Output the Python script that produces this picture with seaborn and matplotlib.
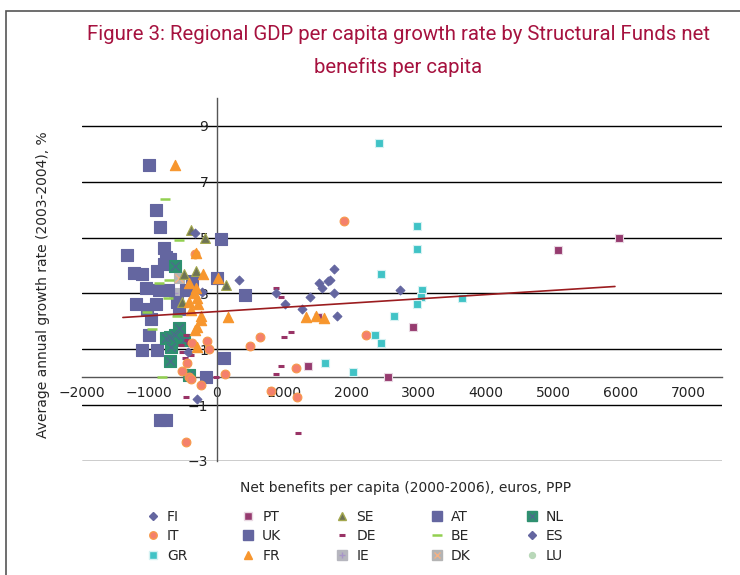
import numpy as np
import pandas as pd
import seaborn as sns
import matplotlib.pyplot as plt
from matplotlib.lines import Line2D
from matplotlib.patches import Rectangle

# values: x = net benefits per capita, y = growth rate (%)
fi_x = [-330, 330, -300, -420, -220]
fi_y = [5.18, 3.50, -0.79, 0.89, 3.05]

es_x = [878, 1012, 1265, 1384, 1518, 1562, 1652, 1741, 1682, 1741, 1786, 2723]
es_y = [3.00, 2.61, 2.46, 2.89, 3.39, 3.21, 3.46, 3.89, 3.50, 3.00, 2.18, 3.11]

pt_x = [5967, 5060, 2917, 2545, 1354, 1500]
pt_y = [5.00, 4.54, 1.79, 0.00, 0.39, 2.15]

gr_x = [2410, 2976, 2976, 2440, 3050, 3036, 2976, 3646, 2634, 2351, 2440, 2024, 1610]
gr_y = [8.39, 5.43, 4.61, 3.71, 3.14, 2.86, 2.64, 2.82, 2.18, 1.50, 1.21, 0.18, 0.50]

it_x = [1890, 2217, -327, -372, -149, -119, -446, -521, -417, -387, -238, 119,
        491, 640, 804, 1176, 1190, -461]
it_y = [5.61, 1.50, 4.43, 1.21, 1.29, 1.00, 0.50, 0.21, 0.00, -0.07, -0.29, 0.11,
        1.11, 1.43, -0.50, 0.32, -0.71, -2.32]

fr_x = [-625, -313, -208, 15, -417, -313, -342, -298, -417, -283, -387, -238,
        -238, -298, -327, -298, 164, 1324, 1473, 1592]
fr_y = [7.61, 4.46, 3.71, 3.57, 3.39, 3.21, 3.00, 2.82, 2.68, 2.64, 2.39, 2.21,
        2.04, 1.79, 1.68, 1.07, 2.14, 2.14, 2.18, 2.11]

se_x = [-387, -179, -491, -313, 134, -521]
se_y = [5.29, 5.00, 3.71, 3.82, 3.29, 2.70]

uk_x = [-1012, -908, -848, -1339, -789, -759, -699, -1235, -1116, -893, -789, -372,
        -1057, -863, -729, -461, -1205, -1042, -908, -595, -565, -982, -1012,
        -1116, -893, -848, -759]
uk_y = [7.61, 6.00, 5.39, 4.39, 4.64, 4.29, 4.25, 3.75, 3.71, 3.79, 4.07, 3.46,
        3.18, 3.11, 3.11, 3.14, 2.61, 2.46, 2.61, 2.68, 2.46, 2.07, 1.50,
        0.96, 0.96, -1.54, -1.54]

at_x = [60, 417, 104, -164, 0]
at_y = [4.96, 2.96, 0.68, 0.00, 3.57]

de_x = [878, 952, 997, 1101, 952, 878, 1205, -15, -461, -461, -446, -417, -521,
        -476, -446, -387, -536]
de_y = [3.21, 2.86, 1.43, 1.61, 0.39, 0.11, -2.00, 0.00, -0.71, 1.50, 1.32, 1.21,
        0.89, 0.68, 0.54, 0.79, 1.14]

be_x = [-774, -565, -863, -714, -1042, -729, -818, -967, -595]
be_y = [6.39, 4.93, 3.39, 3.50, 2.32, 2.82, 0.00, 1.71, 2.18]

nl_x = [-625, -565, -699, -759, -625, -684, -491, -699, -417]
nl_y = [4.00, 1.75, 1.43, 1.39, 1.50, 1.07, 1.32, 0.57, 0.07]

dk_x = [-565]
dk_y = [3.57]
ie_x = [-640]
ie_y = [3.00]
lu_x = [-900]
lu_y = [3.20]

# end points of the linear trendline as drawn in the chart
trend_x = [-1393, 5911]
trend_y = [2.14, 3.25]

legend_order = ["FI", "IT", "GR", "PT", "UK", "FR", "SE", "DE", "IE",
                "AT", "BE", "DK", "NL", "ES", "LU"]
draw_order = ["LU", "IE", "AT", "UK", "NL", "DK", "BE", "DE", "SE", "FI", "ES",
              "IT", "GR", "PT", "FR"]

series = {
    "FI": (fi_x, fi_y), "ES": (es_x, es_y), "PT": (pt_x, pt_y), "GR": (gr_x, gr_y),
    "IT": (it_x, it_y), "FR": (fr_x, fr_y), "SE": (se_x, se_y), "UK": (uk_x, uk_y),
    "AT": (at_x, at_y), "DE": (de_x, de_y), "BE": (be_x, be_y), "NL": (nl_x, nl_y),
    "DK": (dk_x, dk_y), "IE": (ie_x, ie_y), "LU": (lu_x, lu_y),
}
df = pd.concat([pd.DataFrame({"x": v[0], "y": v[1], "country": k})
                for k, v in series.items()], ignore_index=True)

slate = "#6466A0"
styles = {
    "FI": dict(marker="D", color=slate, edge=slate, s=20),
    "ES": dict(marker="D", color=slate, edge=slate, s=20),
    "PT": dict(marker="s", color="#963B6F", edge="#E9D9E3", s=40),
    "GR": dict(marker="s", color="#40C3C6", edge="#D6F2F3", s=40),
    "IT": dict(marker="o", color="#F4806C", edge="#F79A4A", s=40),
    "FR": dict(marker="^", color="#F7962E", edge="#F7962E", s=55),
    "SE": dict(marker="^", color="#6E7355", edge="#A4A84E", s=50),
    "UK": dict(marker="s", color=slate, edge=slate, s=70),
    "AT": dict(marker="s", color=slate, edge=slate, s=70),
    "DE": dict(marker="_", color="#993366", s=20, lw=2.2),
    "BE": dict(marker="_", color="#92D050", s=45, lw=1.8),
    "NL": dict(marker="s", color="#2E9070", edge="#2E9070", s=65, over="x", over_color="#4A6E8A"),
    "DK": dict(marker="s", color="#B4B4B4", edge="#B4B4B4", s=60, over="x", over_color="#F5B183"),
    "IE": dict(marker="s", color="#B6B6BE", edge="#B6B6BE", s=60, over="+", over_color="#A795C8"),
    "LU": dict(marker="o", color="#B9D8B9", edge="#B9D8B9", s=25),
}

sns.set_style("white")
plt.rcParams["font.family"] = ["DejaVu Sans"]

fig = plt.figure(figsize=(7.4, 5.75), dpi=100)
ax = fig.add_axes([82 / 740, 1 - 461 / 575, 640 / 740, 363 / 575])

for c in draw_order:
    st = styles[c]
    sub = df[df["country"] == c]
    if st["marker"] == "_":
        sns.scatterplot(data=sub, x="x", y="y", marker="_", color=st["color"],
                        s=st["s"], linewidth=st["lw"], ax=ax, legend=False, zorder=3)
    else:
        sns.scatterplot(data=sub, x="x", y="y", marker=st["marker"], color=st["color"],
                        edgecolor=st["edge"], s=st["s"], linewidth=0.8, ax=ax,
                        legend=False, zorder=3)
    if "over" in st:
        sns.scatterplot(data=sub, x="x", y="y", marker=st["over"], color=st["over_color"],
                        s=st["s"] * 0.6, linewidth=1.0, ax=ax, legend=False, zorder=3)

# linear trend
sns.lineplot(x=trend_x, y=trend_y, color="#9B1C1F", linewidth=1.2, ax=ax, zorder=4)

ax.set_xlim(-2000, 7500)
ax.set_ylim(-3, 10)
ax.set_xticks(range(-2000, 7001, 1000))
ax.set_yticks(range(-3, 10, 2))
ax.spines["left"].set_position(("data", 0))
ax.spines["bottom"].set_position(("data", 0))
ax.spines["top"].set_visible(False)
ax.spines["right"].set_visible(False)
for sp in ("left", "bottom"):
    ax.spines[sp].set_color("#555555")
    ax.spines[sp].set_linewidth(1.0)
ax.set_axisbelow(True)
ax.grid(axis="y", color="black", linewidth=1.0)
ax.grid(axis="x", visible=False)
ax.tick_params(axis="both", direction="inout", length=6, color="#555555",
               labelsize=10, labelcolor="#222222", pad=3)

ax.set_xlabel("Net benefits per capita (2000-2006), euros, PPP", fontsize=10)
ax.set_ylabel("Average annual growth rate (2003-2004), %", fontsize=10)
ax.xaxis.set_label_coords(0.505, -0.055)
ax.yaxis.set_label_coords(-0.05, 0.485)

title_font = ["Roboto", "DejaVu Sans"]
fig.text(0.538, 1 - 35 / 575, "Figure 3: Regional GDP per capita growth rate by Structural Funds net",
         ha="center", va="center", fontsize=14.7, color="#A6123F", family=title_font)
fig.text(0.538, 1 - 67 / 575, "benefits per capita",
         ha="center", va="center", fontsize=14.7, color="#A6123F", family=title_font)

# legend
handles = []
for c in legend_order:
    st = styles[c]
    if st["marker"] == "_":
        h = Line2D([], [], linestyle="none", marker="_", color=st["color"],
                   markersize=np.sqrt(st["s"]), markeredgewidth=st["lw"])
    else:
        h = Line2D([], [], linestyle="none", marker=st["marker"], markerfacecolor=st["color"],
                   markeredgecolor=st["edge"], markersize=np.sqrt(st["s"]) * 0.85)
    if "over" in st:
        h2 = Line2D([], [], linestyle="none", marker=st["over"], color=st["over_color"],
                    markersize=np.sqrt(st["s"]) * 0.6, markeredgewidth=1.0)
        h = (h, h2)
    handles.append(h)
fig.legend(handles, legend_order, ncol=5, loc="upper left",
           bbox_to_anchor=(146 / 740, 1 - 510 / 575), frameon=False, fontsize=10,
           handlelength=1.0, handletextpad=0.5, columnspacing=3.9,
           labelspacing=0.38, borderpad=0, borderaxespad=0)

fig.add_artist(Rectangle((6 / 740, -0.1), 1.2, 1 - 11 / 575 + 0.1, transform=fig.transFigure,
                         fill=False, edgecolor="#555555", linewidth=1.2))

fig.savefig("out.png", dpi=100)
